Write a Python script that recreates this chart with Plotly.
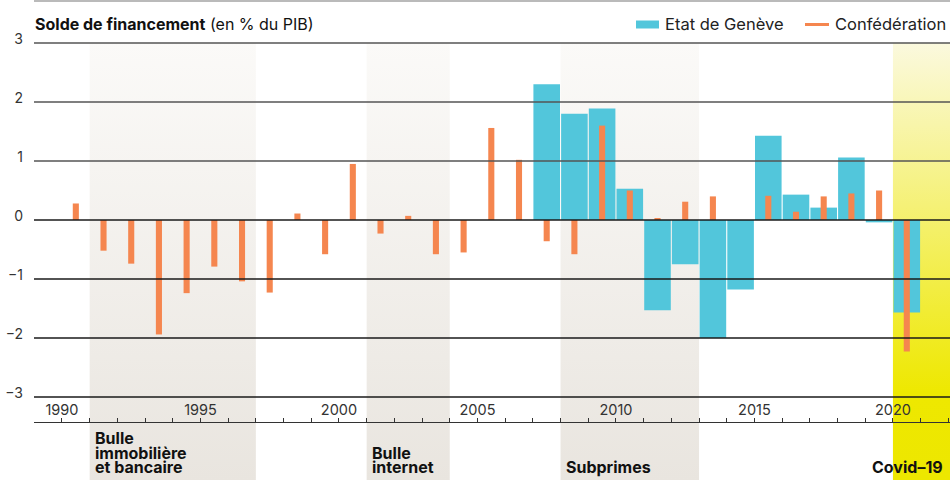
import plotly.graph_objects as go

# Solde de financement (en % du PIB)
years_ch = list(range(1990, 2021))
confederation = [0.28, -0.52, -0.74, -1.94, -1.24, -0.79, -1.04, -1.23, 0.11, -0.58,
                 0.95, -0.23, 0.07, -0.58, -0.55, 1.56, 1.02, -0.36, -0.58, 1.60,
                 0.50, 0.02, 0.31, 0.40, 0.0, 0.41, 0.14, 0.40, 0.45, 0.50,
                 -2.23]

years_ge = list(range(2007, 2021))
etat_geneve = [2.30, 1.80, 1.89, 0.53, -1.53, -0.75, -2.00, -1.18, 1.43, 0.43,
               0.21, 1.06, -0.04, -1.57]

# crises (start year, end year, label lines)
periods = [
    (1991, 1997, ["Bulle", "immobilière", "et bancaire"]),
    (2001, 2004, ["Bulle", "internet"]),
    (2008, 2013, ["Subprimes"]),
]
covid = (2020, 2022.06, "Covid–19")

y_ticks = [3, 2, 1, 0, -1, -2, -3]
x_tick0, x_dtick = 1990, 5

BLUE = "#52c6db"
ORANGE = "#f5864f"
FONT = "Inter"

X0, X1 = 1988.99, 2022.06
Y0, Y1 = -4.407, 3.017
TOP = 3.0


def px_x(px):
    return (px - 34) / 916


def px_y(py):
    return (480 - py) / 438


fig = go.Figure()

# shaded periods (gradient fills) on the base axes, below the bars
for start, end, _ in periods:
    fig.add_trace(go.Scatter(
        x=[start, end, end, start, start], y=[Y0, Y0, TOP, TOP, Y0],
        mode="lines", line=dict(width=0), fill="toself",
        fillgradient=dict(type="vertical", colorscale=[[0, "#e9e5df"], [1, "#fbfaf8"]]),
        hoverinfo="skip", showlegend=False,
    ))
fig.add_trace(go.Scatter(
    x=[covid[0], covid[1], covid[1], covid[0], covid[0]], y=[Y0, Y0, TOP, TOP, Y0],
    mode="lines", line=dict(width=0), fill="toself",
    fillgradient=dict(type="vertical",
                      colorscale=[[0, "#ede700"], [0.2, "#eee800"], [1, "#fbf9de"]]),
    hoverinfo="skip", showlegend=False,
))

# bars on overlaid axes so they sit above the shading
fig.add_trace(go.Bar(
    x=[y + 0.5 for y in years_ge], y=etat_geneve, width=0.96,
    marker=dict(color=BLUE, line=dict(width=0)), name="Etat de Genève",
    showlegend=False, xaxis="x2", yaxis="y2",
))
fig.add_trace(go.Bar(
    x=[y + 0.5 for y in years_ch], y=confederation, width=0.22,
    marker=dict(color=ORANGE, line=dict(width=0)), name="Confédération",
    showlegend=False, xaxis="x2", yaxis="y2",
))

shapes = []
for v in y_ticks:
    shapes.append(dict(type="line", xref="paper", x0=0, x1=1, yref="y", y0=v, y1=v,
                       line=dict(color="#555555" if v > 0 else "#1a1a1a", width=1.5),
                       layer="above"))
# top rule
shapes.append(dict(type="line", xref="paper", x0=0, x1=1, yref="paper",
                   y0=px_y(1), y1=px_y(1), line=dict(color="#777777", width=1.2)))

# legend
shapes.append(dict(type="rect", xref="paper", yref="paper",
                   x0=px_x(636), x1=px_x(659), y0=px_y(28.5), y1=px_y(20.5),
                   fillcolor=BLUE, line=dict(width=0)))
shapes.append(dict(type="line", xref="paper", yref="paper",
                   x0=px_x(805), x1=px_x(829), y0=px_y(24.5), y1=px_y(24.5),
                   line=dict(color=ORANGE, width=3)))

annotations = [
    dict(text="<b>Solde de financement</b> (en % du PIB)", xref="paper", yref="paper",
         x=px_x(33), y=px_y(24), xanchor="left", yanchor="middle", showarrow=False,
         font=dict(size=16, color="#111111")),
    dict(text="Etat de Genève", xref="paper", yref="paper",
         x=px_x(663), y=px_y(24), xanchor="left", yanchor="middle", showarrow=False,
         font=dict(size=16.5, color="#222222")),
    dict(text="Confédération", xref="paper", yref="paper",
         x=px_x(833), y=px_y(24), xanchor="left", yanchor="middle", showarrow=False,
         font=dict(size=16.5, color="#222222")),
]

LINE_H = 14.5
for start, end, lines in periods:
    n = len(lines)
    for i, line in enumerate(lines):
        annotations.append(dict(
            text="<b>" + line + "</b>", xref="x", yref="paper", x=start, y=px_y(479),
            xanchor="left", yanchor="bottom", xshift=3, yshift=(n - 1 - i) * LINE_H,
            showarrow=False, font=dict(size=16, color="#111111"),
        ))
annotations.append(dict(
    text="<b>" + covid[2] + "</b>", xref="x", yref="paper", x=covid[1], y=px_y(479),
    xanchor="right", yanchor="bottom", xshift=-5, showarrow=False,
    font=dict(size=16, color="#111111"),
))

fig.update_layout(
    width=950, height=480,
    margin=dict(l=34, r=0, t=42, b=0, autoexpand=False),
    plot_bgcolor="white", paper_bgcolor="white",
    barmode="overlay",
    font=dict(family=FONT, color="#333333"),
    shapes=shapes, annotations=annotations,
    showlegend=False,
    xaxis=dict(
        range=[X0, X1], anchor="free", position=px_y(422),
        tickmode="linear", tick0=x_tick0, dtick=x_dtick,
        ticks="inside", ticklen=4, tickcolor="#333333", tickwidth=1,
        minor=dict(dtick=1, tick0=1989, ticks="inside", ticklen=4, tickcolor="#333333"),
        ticklabelposition="inside", tickfont=dict(size=14.5, color="#333333"),
        showline=True, linecolor="#333333", linewidth=1.3,
        showgrid=False, zeroline=False, fixedrange=True, automargin=False,
    ),
    yaxis=dict(
        range=[Y0, Y1], tickmode="array", tickvals=y_ticks,
        ticks="", ticklabelstandoff=10, ticklabelshift=-4,
        tickfont=dict(size=14, color="#333333"),
        showgrid=False, zeroline=False, showline=False, fixedrange=True, automargin=False,
    ),
    xaxis2=dict(range=[X0, X1], overlaying="x", anchor="y2", visible=False,
                fixedrange=True),
    yaxis2=dict(range=[Y0, Y1], overlaying="y", anchor="x2", visible=False,
                fixedrange=True),
)

fig.write_html("out.html", config={"displayModeBar": False},
               post_script="document.body.style.margin='0px';")
